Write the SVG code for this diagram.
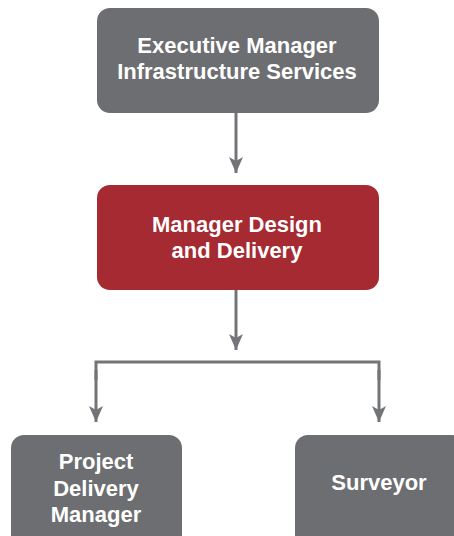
<svg xmlns="http://www.w3.org/2000/svg" width="454" height="536" viewBox="0 0 454 536">
  <style>
    .box { fill: #6d6e71; }
    .box.accent { fill: #a52a32; }
    .label { font-family: "Liberation Sans", Arial, sans-serif; font-weight: bold; font-size: 22px; fill: #ffffff; text-anchor: middle; }
    .wire { fill: none; stroke: #737477; stroke-width: 3; }
  </style>
  <defs>
    <!-- arrowhead drawn along +x so orient="auto" follows the line -->
    <marker id="head" viewBox="0 0 16 14" refX="16" refY="7" markerWidth="16" markerHeight="14" markerUnits="userSpaceOnUse" orient="auto">
      <path d="M0,0 L4,7 L0,14 L16,7 Z" fill="#737477"/>
    </marker>
  </defs>

  <rect width="454" height="536" fill="#ffffff"/>

  <g id="connectors">
    <line class="wire" x1="236" y1="112" x2="236" y2="173" marker-end="url(#head)"/>
    <line class="wire" x1="236" y1="290" x2="236" y2="350" marker-end="url(#head)"/>
    <path class="wire" d="M96,380 V362 H379 V380"/>
    <line class="wire" x1="96" y1="370" x2="96" y2="422" marker-end="url(#head)"/>
    <line class="wire" x1="379" y1="370" x2="379" y2="422" marker-end="url(#head)"/>
  </g>

  <g id="executive-manager">
    <rect class="box" x="97" y="8" width="282" height="105" rx="13"/>
    <text class="label" x="237" y="53">Executive Manager</text>
    <text class="label" x="237" y="79">Infrastructure Services</text>
  </g>

  <g id="manager-design-delivery">
    <rect class="box accent" x="97" y="185" width="282" height="105" rx="13"/>
    <text class="label" x="237" y="232">Manager Design</text>
    <text class="label" x="237" y="258">and Delivery</text>
  </g>

  <g id="project-delivery-manager">
    <rect class="box" x="11" y="435" width="171" height="115" rx="13"/>
    <text class="label" x="96" y="469">Project</text>
    <text class="label" x="96" y="496">Delivery</text>
    <text class="label" x="96" y="522">Manager</text>
  </g>

  <g id="surveyor">
    <rect class="box" x="295" y="435" width="170" height="115" rx="13"/>
    <text class="label" x="379" y="490">Surveyor</text>
  </g>
</svg>
